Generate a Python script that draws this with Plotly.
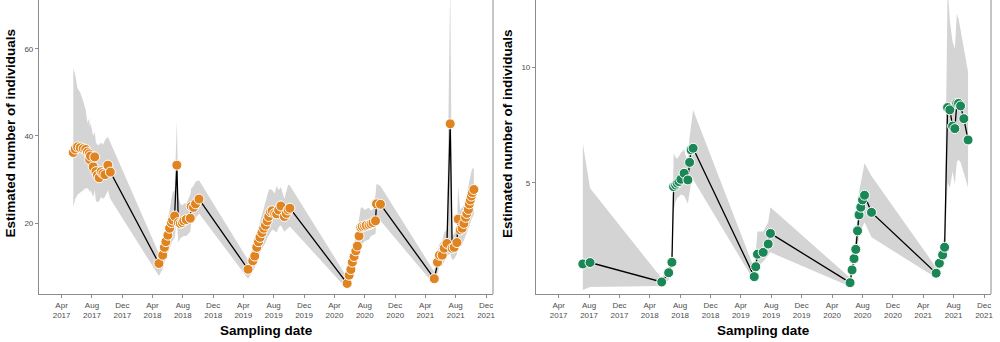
import pandas as pd
import plotly.graph_objects as go

START = "2017-04-01"

# ---- Left panel (orange) : days since START, estimate, CI ----
left_days = [47, 55, 64, 75, 87, 97, 104, 111, 113, 116, 127, 133, 138, 144, 151, 159, 166, 174, 186, 196,
             391, 406, 413, 419, 427, 434, 441, 446, 454, 463, 469, 477, 485, 491, 501, 517, 521, 530, 538, 552,
             749, 768, 776, 784, 791, 797, 805, 812, 819, 826, 832, 839, 846, 856, 864, 872, 881, 895, 903, 910, 917,
             1147, 1155, 1162, 1168, 1175, 1182, 1188, 1195, 1202, 1208, 1217, 1224, 1235, 1243, 1251, 1261, 1265, 1281,
             1497, 1510, 1518, 1529, 1537, 1548, 1561, 1569, 1577, 1588, 1593, 1601, 1609, 1616, 1623, 1628, 1634, 1638,
             1642, 1646, 1650, 1656]
left_vals = [36.2, 37.0, 37.5, 37.3, 37.1, 36.9, 36.3, 35.9, 34.6, 35.4, 32.9, 35.2, 31.8, 31.0, 30.4, 31.8, 31.4, 31.1, 33.3, 31.7,
             10.7, 12.6, 14.4, 15.7, 17.2, 18.8, 20.1, 20.7, 21.6, 33.3, 20.1, 19.9, 20.1, 20.5, 20.8, 21.1, 23.8, 23.6, 24.4, 25.5,
             9.35, 11.3, 12.4, 14.4, 15.7, 16.7, 17.8, 18.8, 19.5, 20.5, 21.5, 22.6, 22.8, 22.2, 22.1, 23.0, 23.9, 21.5, 22.2, 23.0, 23.4,
             6.1, 8.0, 9.3, 11.0, 12.3, 13.6, 14.7, 17.0, 19.0, 19.2, 19.3, 19.5, 19.6, 19.8, 20.1, 20.5, 24.4, 24.3,
             7.2, 11.0, 12.6, 12.6, 14.2, 15.3, 42.8, 14.2, 14.4, 15.5, 20.9, 18.4, 18.8, 19.9, 21.3, 22.2, 23.1, 24.4,
             25.3, 26.2, 27.0, 27.7]
left_upper = [55.5, 54, 51, 50, 48, 46, 43, 44, 42, 43, 40, 41, 38.5, 38, 38, 38.5, 38, 39, 39.8, 38.5,
              13.0, 15.3, 17.5, 19, 21, 23, 26, 27, 27.5, 43.5, 26, 24.5, 24, 24.5, 24.5, 26.5, 28, 28.5, 29.5, 29.8,
              11.5, 13.8, 15, 17.5, 19, 20.5, 22, 23.5, 25, 26.5, 27.5, 27.8, 27.5, 26.8, 28.5, 27.5, 28.3, 25.5, 27, 28.8, 28.6,
              7.5, 9.8, 11.4, 13.5, 15, 16.8, 18.2, 21, 23.5, 23.6, 23, 23.2, 23.5, 22.8, 23.2, 26.5, 29, 28.5,
              8.8, 13.5, 15.2, 16, 17.8, 18.5, 75, 17, 17.5, 19, 28.5, 23, 23.5, 24, 25.5, 27, 28.5, 30,
              31, 31.8, 32.5, 32.5]
left_lower = [23.7, 25.5, 26.5, 27, 27.5, 28, 28, 27.5, 27, 27.5, 26, 27.5, 25, 24.8, 25, 26, 25.5, 26, 27.5, 25.5,
              7.8, 9.5, 11, 12, 13, 14.5, 15.5, 16, 16.5, 21, 15.5, 16.5, 16.8, 17, 17, 18, 20, 20, 21, 22.2,
              7.2, 8.8, 9.8, 11.5, 12.5, 13.2, 14, 15, 15.5, 16.5, 17.2, 18, 18.5, 18.2, 17.8, 19, 19.5, 18, 18.5, 19, 19.2,
              4.8, 6.3, 7.4, 8.8, 9.8, 10.8, 11.6, 13.5, 15, 15.2, 15.8, 16, 16.2, 17, 17.2, 17.5, 21, 20.5,
              5.8, 8.8, 10, 10.2, 11.2, 12.5, 13, 11.5, 11.8, 12.8, 15.5, 14.5, 15, 16, 17, 17.8, 18.5, 19.5,
              20, 20.8, 21.5, 22]

# ---- Right panel (green) ----
right_days = [97, 126, 413, 441, 454, 461, 469, 475, 482, 490, 503, 518, 525, 531, 539,
              784, 790, 797, 820, 840, 849,
              1168, 1176, 1184, 1191, 1198, 1204, 1211, 1218, 1226, 1254,
              1513, 1526, 1539, 1547, 1559, 1568, 1579, 1588, 1596, 1603, 1611, 1624, 1641]
right_vals = [1.50, 1.56, 0.72, 1.12, 1.57, 4.84, 4.91, 4.99, 5.06, 5.16, 5.42, 5.13, 5.89, 6.43, 6.50,
              0.95, 1.38, 1.92, 2.00, 2.36, 2.82,
              0.69, 1.24, 1.73, 2.13, 2.93, 3.62, 3.95, 4.27, 4.47, 3.73,
              1.10, 1.53, 1.89, 2.22, 8.26, 8.16, 7.46, 7.35, 8.44, 8.44, 8.33, 7.78, 6.86]
right_upper = [6.71, 4.77, 0.88, 1.4, 2.0, 6.3, 6.1, 6.05, 6.15, 6.3, 6.45, 5.8, 7.0, 7.6, 8.15,
               1.3, 2.0, 2.9, 2.9, 3.3, 3.95,
               0.9, 1.6, 2.2, 2.7, 3.7, 4.6, 5.0, 5.4, 5.85, 5.3,
               1.35, 1.9, 2.35, 2.75, 13.5, 12.0, 11.1, 10.8, 12.3, 12.1, 11.6, 10.8, 9.8]
right_lower = [0.37, 0.5, 0.55, 0.8, 1.2, 3.8, 4.2, 4.35, 4.4, 4.5, 4.45, 4.1, 4.6, 5.0, 5.15,
               0.75, 1.0, 1.4, 1.6, 1.9, 2.0,
               0.52, 0.95, 1.3, 1.6, 2.2, 2.7, 2.95, 3.15, 3.3, 2.65,
               0.9, 1.2, 1.5, 1.75, 5.0, 4.8, 5.5, 4.95, 5.9, 6.0, 5.9, 5.4, 4.8]

tick_dates = ["2017-04-01", "2017-08-01", "2017-12-01", "2018-04-01", "2018-08-01", "2018-12-01",
              "2019-04-01", "2019-08-01", "2019-12-01", "2020-04-01", "2020-08-01", "2020-12-01",
              "2021-04-01", "2021-08-01", "2021-12-01"]
tick_text = ["Apr<br>2017", "Aug<br>2017", "Dec<br>2017", "Apr<br>2018", "Aug<br>2018", "Dec<br>2018",
             "Apr<br>2019", "Aug<br>2019", "Dec<br>2019", "Apr<br>2020", "Aug<br>2020", "Dec<br>2020",
             "Apr<br>2021", "Aug<br>2021", "Dec<br>2021"]

ORANGE = "#DF8420"
GREEN = "#1B8757"
BAND = "#D4D4D4"
FONT = "Liberation Sans, Arial, sans-serif"


def to_dates(days):
    base = pd.Timestamp(START)
    return [base + pd.Timedelta(days=d) for d in days]


fig = go.Figure()


def add_panel(days, vals, lo, hi, color, xa, ya):
    x = to_dates(days)
    fig.add_trace(go.Scatter(x=x, y=lo, mode="lines", line=dict(width=0, color="rgba(0,0,0,0)"),
                             xaxis=xa, yaxis=ya, showlegend=False, hoverinfo="skip"))
    fig.add_trace(go.Scatter(x=x, y=hi, mode="lines", line=dict(width=0, color="rgba(0,0,0,0)"),
                             fill="tonexty", fillcolor=BAND, xaxis=xa, yaxis=ya,
                             showlegend=False, hoverinfo="skip"))
    fig.add_trace(go.Scatter(x=x, y=vals, mode="lines+markers",
                             line=dict(color="black", width=1.3),
                             marker=dict(size=10, color=color, line=dict(color="white", width=1)),
                             xaxis=xa, yaxis=ya, showlegend=False))


add_panel(left_days, left_vals, left_lower, left_upper, ORANGE, "x", "y")
add_panel(right_days, right_vals, right_lower, right_upper, GREEN, "x2", "y2")

Y0 = 1 - 294 / 342
AXCOL = "#8c8c8c"
common_x = dict(range=["2016-12-31", "2021-12-29"], tickvals=tick_dates, ticktext=tick_text,
                ticks="outside", ticklen=3, tickcolor=AXCOL, showline=True, linecolor=AXCOL,
                linewidth=1, showgrid=False, zeroline=False,
                tickfont=dict(size=8, color="#4d4d4d", family=FONT))
common_y = dict(ticks="outside", ticklen=3, tickcolor=AXCOL, showline=True, linecolor=AXCOL,
                linewidth=1, showgrid=False, zeroline=False,
                tickfont=dict(size=8, color="#4d4d4d", family=FONT), domain=[Y0, 1])

title_font = dict(size=13.5, color="black", family=FONT)

fig.update_layout(
    width=1000, height=342,
    margin=dict(l=0, r=0, t=0, b=0),
    paper_bgcolor="white", plot_bgcolor="white",
    showlegend=False,
    xaxis=dict(domain=[0.039, 0.494], anchor="y", **common_x),
    xaxis2=dict(domain=[0.537, 0.993], anchor="y2", **common_x),
    yaxis=dict(range=[3.68, 71.26], tickvals=[20, 40, 60], anchor="x", **common_y),
    yaxis2=dict(range=[0.20, 12.91], tickvals=[5, 10], anchor="x2", **common_y),
    shapes=[
        dict(type="line", xref="paper", yref="paper", x0=0.494, x1=0.494, y0=Y0, y1=1,
             line=dict(color=AXCOL, width=1)),
        dict(type="line", xref="paper", yref="paper", x0=0.993, x1=0.993, y0=Y0, y1=1,
             line=dict(color=AXCOL, width=1)),
    ],
    annotations=[
        dict(text="<b>Estimated number of individuals</b>", textangle=-90, xref="paper", yref="paper",
             x=0.011, y=1 - 132.5 / 342, xanchor="center", yanchor="middle",
             showarrow=False, font=title_font),
        dict(text="<b>Estimated number of individuals</b>", textangle=-90, xref="paper", yref="paper",
             x=0.509, y=1 - 133 / 342, xanchor="center", yanchor="middle",
             showarrow=False, font=title_font),
        dict(text="<b>Sampling date</b>", xref="paper", yref="paper", x=0.2667, y=1 - 330 / 342,
             xanchor="center", yanchor="middle", showarrow=False, font=title_font),
        dict(text="<b>Sampling date</b>", xref="paper", yref="paper", x=0.765, y=1 - 330 / 342,
             xanchor="center", yanchor="middle", showarrow=False, font=title_font),
    ],
)

fig.write_html("out.html")
